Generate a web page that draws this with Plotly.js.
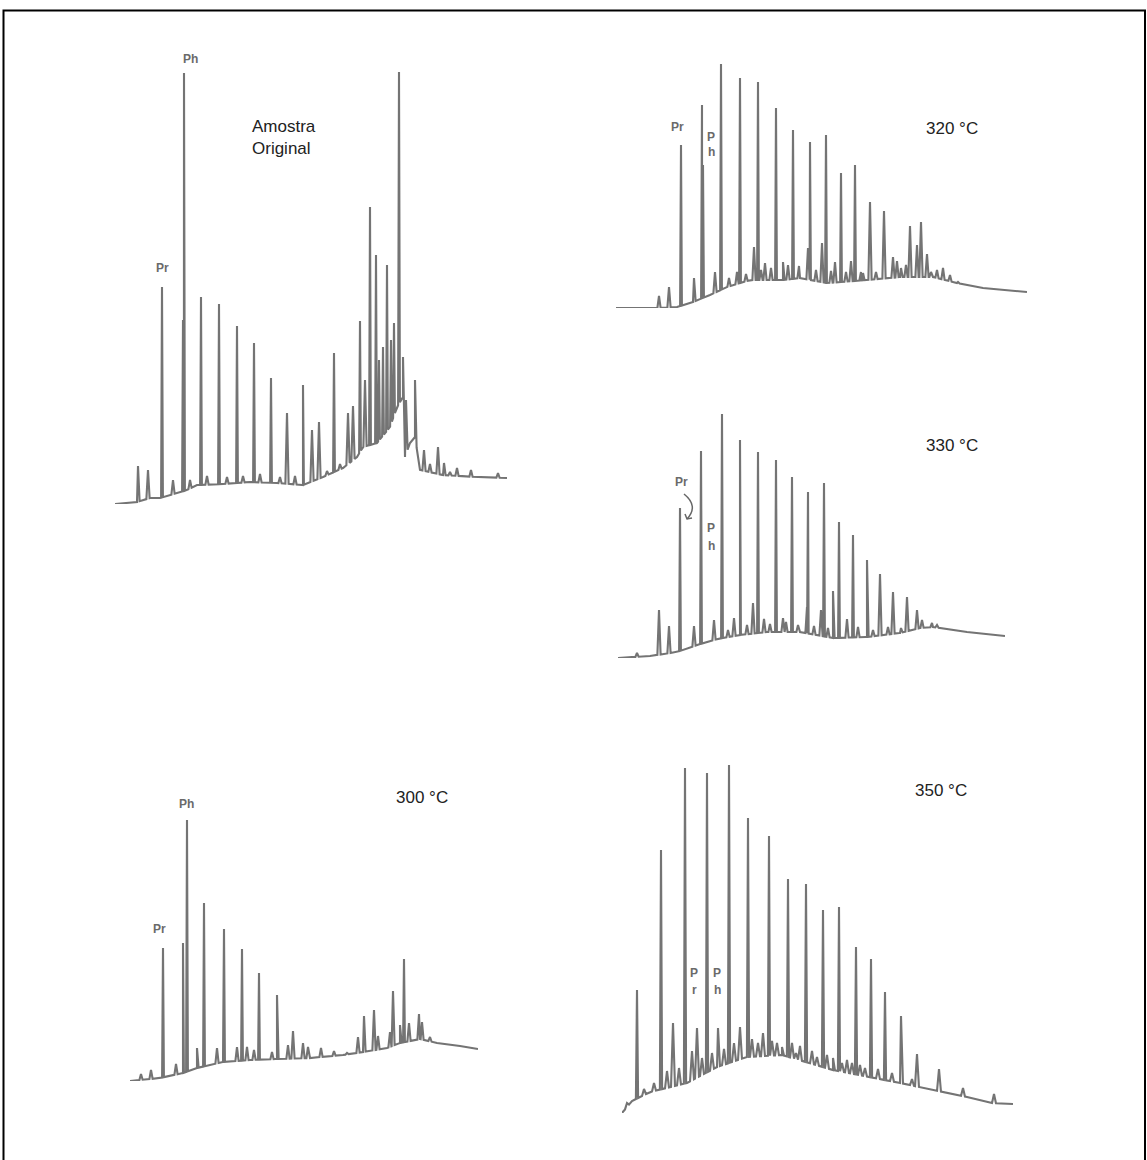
<!DOCTYPE html>
<html>
<head>
<meta charset="utf-8">
<script src="https://cdn.plot.ly/plotly-3.0.1.min.js"></script>
<style>html,body{margin:0;padding:0;background:#fff;}#chart{width:1147px;height:1160px;}</style>
</head>
<body>
<div id="chart"></div>
<script>
// ---------------- DATA (retention offset, detector response) ----------------
// Amostra Original
const origBaseX = [0,22,35,45,62,72,82,108,135,162,188,208,228,242,248,262,275,282,288,290,295,300,305,328,362,392];
const origBaseY = [0,2,6,6,11,14,19,20,22,21,19,27,36,47,57,61,77,97,107,47,61,67,34,29,27,26];
const origPeakX = [23,33,47,58,68,69,75,86,92,104,112,122,128,139,145,156,165,172,180,188,197,204,212,219,225,233,238,245,250,255,261,264,268,272,276,279,284,288,291,300,309,315,323,329,335,342,356,383];
const origPeakY = [38,34,217,24,184,431,24,207,28,200,27,178,28,161,30,126,27,91,28,119,74,82,33,151,40,91,98,183,124,297,249,144,157,239,164,181,432,147,104,124,54,40,57,41,32,36,34,31];

// 320 °C
const t320BaseX = [0,41,61,77,94,111,134,167,184,211,251,284,317,341,367,411];
const t320BaseY = [0,0,1,6,13,21,28,28,30,25,28,31,31,25,20,16];
const t320PeakX = [43,53,65,78,86,87,99,105,113,121,124,130,138,142,145,149,155,160,167,172,177,183,192,194,200,206,210,215,219,225,230,235,239,245,247,254,260,268,277,281,285,290,294,301,305,311,315,321,327,334,342];
const t320PeakY = [12,21,163,30,203,143,36,244,30,36,230,34,61,226,38,45,40,200,46,43,178,42,60,166,38,65,173,37,46,135,36,47,143,36,35,106,36,97,51,47,40,43,82,63,86,54,36,38,40,33,26];

// 330 °C
const t330BaseX = [0,32,59,79,99,122,149,182,215,249,282,302,315,349,387];
const t330BaseY = [0,2,6,13,19,23,26,26,20,21,25,30,31,26,22];
const t330PeakX = [19,41,51,62,76,83,96,104,110,116,122,129,135,140,146,152,158,165,168,174,180,189,190,196,203,206,210,215,221,229,235,240,249,255,262,270,275,283,289,299,304,314,319];
const t330PeakY = [5,48,32,150,32,207,38,244,28,40,218,33,55,206,39,34,198,40,36,181,33,51,166,32,48,175,30,67,136,39,123,31,98,28,84,31,66,30,61,48,38,35,33];

// 300 °C
const t300BaseX = [0,30,53,67,93,120,147,180,213,233,257,270,290,307,330,348];
const t300BaseY = [0,3,8,13,19,21,22,23,26,29,33,38,42,38,35,32];
const t300PeakX = [11,21,33,46,53,57,67,74,87,94,107,112,117,124,129,142,147,158,163,173,178,191,204,217,228,234,244,248,260,263,270,274,279,289,292,300];
const t300PeakY = [7,11,133,17,138,261,33,178,33,152,34,132,34,31,108,29,86,36,50,38,34,33,30,28,44,65,71,45,49,90,56,122,58,67,59,44];

// 350 °C
const t350BaseX = [0,10,28,65,95,125,160,211,278,345,370,391];
const t350BaseY = [0,12,21,30,46,56,58,43,30,16,10,9];
const t350PeakX = [5,15,22,32,39,45,51,57,63,70,75,80,85,90,96,102,107,112,118,126,130,136,141,147,150,155,160,166,170,174,178,184,190,195,201,205,211,217,220,225,230,234,238,243,249,256,263,270,279,290,295,317,341,372];
const t350PeakY = [10,123,24,30,263,42,90,45,345,62,85,55,340,60,85,64,348,70,86,295,74,70,80,277,72,70,66,234,70,60,67,229,62,56,203,58,55,206,50,53,50,166,48,45,154,44,121,40,97,34,59,44,25,19];

// Panel texts
const panelTitles = ['Amostra<br>Original', '320 °C', '330 °C', '300 °C', '350 °C'];

// ---------------- LAYOUT HELPERS ----------------
const W = 1147, H = 1160;
const px = v => v / W;
const py = v => 1 - v / H;

// panel frames: left px, baseline px, width (data units = px), height
const panels = [
  {bx: origBaseX, by: origBaseY, kx: origPeakX, ky: origPeakY, left: 115, bottom: 504, w: 392, h: 450},
  {bx: t320BaseX, by: t320BaseY, kx: t320PeakX, ky: t320PeakY, left: 616, bottom: 308, w: 411, h: 250},
  {bx: t330BaseX, by: t330BaseY, kx: t330PeakX, ky: t330PeakY, left: 618, bottom: 658, w: 387, h: 250},
  {bx: t300BaseX, by: t300BaseY, kx: t300PeakX, ky: t300PeakY, left: 130, bottom: 1081, w: 348, h: 270},
  {bx: t350BaseX, by: t350BaseY, kx: t350PeakX, ky: t350PeakY, left: 622, bottom: 1113, w: 391, h: 360}
];

function interp(xs, ys, x) {
  if (x <= xs[0]) return ys[0];
  for (let i = 1; i < xs.length; i++) {
    if (x <= xs[i]) {
      const t = (x - xs[i-1]) / (xs[i] - xs[i-1]);
      return ys[i-1] + t * (ys[i] - ys[i-1]);
    }
  }
  return ys[ys.length - 1];
}

function buildLine(p, half) {
  const pts = [];
  p.bx.forEach((x, i) => pts.push([x, p.by[i], 0]));
  p.kx.forEach((x, i) => {
    const hw = p.ky[i] - interp(p.bx, p.by, x) > 80 ? half : half * 1.8;
    pts.push([x - hw, interp(p.bx, p.by, x - hw), 1]);
    pts.push([x, p.ky[i], 2]);
    pts.push([x + hw, interp(p.bx, p.by, x + hw), 3]);
  });
  pts.sort((a, b) => a[0] - b[0] || a[2] - b[2]);
  return {x: pts.map(q => q[0]), y: pts.map(q => q[1])};
}

const data = [];
const layout = {
  width: W, height: H,
  margin: {l: 0, r: 0, t: 0, b: 0},
  paper_bgcolor: '#ffffff', plot_bgcolor: 'rgba(0,0,0,0)',
  showlegend: false,
  annotations: [], shapes: []
};

panels.forEach((p, i) => {
  const n = i === 0 ? '' : String(i + 1);
  const line = buildLine(p, i === 4 ? 1.1 : 0.9);
  data.push({
    type: 'scatter', mode: 'lines', x: line.x, y: line.y,
    xaxis: 'x' + n, yaxis: 'y' + n,
    line: {color: '#747474', width: 2.1},
    hoverinfo: 'skip'
  });
  layout['xaxis' + n] = {
    domain: [px(p.left), px(p.left + p.w)], range: [0, p.w],
    visible: false, fixedrange: true, anchor: 'y' + n
  };
  layout['yaxis' + n] = {
    domain: [py(p.bottom), py(p.bottom - p.h)], range: [0, p.h],
    visible: false, fixedrange: true, anchor: 'x' + n
  };
});

// text annotations
const titleFont = {family: 'Liberation Sans, Arial, sans-serif', size: 17, color: '#222'};
const tagFont = {family: 'Liberation Sans, Arial, sans-serif', size: 12, color: '#6a6a6a'};
function addText(text, x, y, font, bold, anchor) {
  layout.annotations.push({
    text: bold ? '<b>' + text + '</b>' : text,
    xref: 'paper', yref: 'paper', x: px(x), y: py(y),
    xanchor: anchor || 'center', yanchor: 'middle', showarrow: false, font: font,
    align: anchor === 'left' ? 'left' : 'center'
  });
}
addText(panelTitles[0], 250, 138, titleFont, false, 'left');
addText(panelTitles[1], 952, 128, titleFont);
addText(panelTitles[2], 952, 446, titleFont);
addText(panelTitles[3], 422, 797, titleFont);
addText(panelTitles[4], 941, 791, titleFont);

// peak identifiers Pr / Ph
addText('Pr', 162, 268, tagFont, true);
addText('Ph', 190, 59, tagFont, true);
addText('Pr', 677, 127, tagFont, true);
addText('P', 711, 137, tagFont, true);
addText('h', 711, 152, tagFont, true);
addText('Pr', 681, 482, tagFont, true);
addText('P', 711, 528, tagFont, true);
addText('h', 711, 546, tagFont, true);
addText('Pr', 159, 929, tagFont, true);
addText('Ph', 186, 804, tagFont, true);
addText('P', 694, 973, tagFont, true);
addText('r', 694, 990, tagFont, true);
addText('P', 717, 973, tagFont, true);
addText('h', 717, 990, tagFont, true);

// curved arrow Pr -> peak (330 °C)
layout.shapes.push({
  type: 'path', xref: 'x3', yref: 'y3',
  path: 'M 66 164 Q 81 152 69 139',
  line: {color: '#666', width: 1.5}
});
layout.shapes.push({
  type: 'path', xref: 'x3', yref: 'y3',
  path: 'M 67 144 L 69 139 L 74 140',
  line: {color: '#666', width: 1.5}
});

// outer frame
layout.shapes.push({
  type: 'rect', xref: 'paper', yref: 'paper',
  x0: px(3.5), x1: px(1145), y0: py(1175), y1: py(10.5),
  line: {color: '#000', width: 2}, fillcolor: 'rgba(0,0,0,0)'
});

Plotly.newPlot('chart', data, layout, {staticPlot: true, displayModeBar: false});
</script>
</body>
</html>
